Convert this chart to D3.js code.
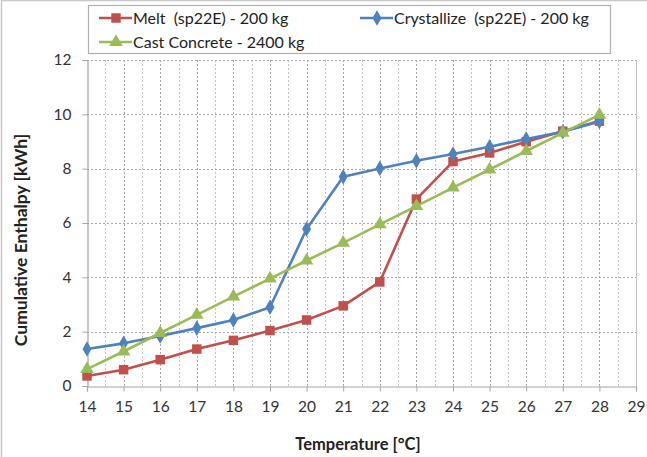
<!DOCTYPE html>
<html>
<head>
<meta charset="utf-8">
<script src="https://cdn.jsdelivr.net/npm/d3@7"></script>
<style>
  html, body { margin: 0; padding: 0; background: #fff; }
  svg { display: block; font-family: Lato, "Open Sans", sans-serif; }
  .legend-label { white-space: pre; }
</style>
</head>
<body>
<svg id="chart" width="647" height="457"></svg>
<script>
// Temperature steps (°C)
const temperatures = [14, 15, 16, 17, 18, 19, 20, 21, 22, 23, 24, 25, 26, 27, 28];
// Cumulative enthalpy (kWh) per series
const meltValues = [0.37, 0.6, 0.97, 1.36, 1.68, 2.04, 2.43, 2.95, 3.83, 6.88, 8.26, 8.58, 8.99, 9.38, 9.75];
const crystallizeValues = [1.36, 1.57, 1.84, 2.13, 2.43, 2.9, 5.78, 7.7, 8.01, 8.29, 8.54, 8.81, 9.09, 9.36, 9.74];
const concreteValues = [0.62, 1.27, 1.95, 2.62, 3.29, 3.95, 4.62, 5.27, 5.95, 6.62, 7.3, 7.97, 8.65, 9.32, 9.98];
// Axis ticks
const xTicks = [14, 15, 16, 17, 18, 19, 20, 21, 22, 23, 24, 25, 26, 27, 28, 29];
const yTicks = [0, 2, 4, 6, 8, 10, 12];
const seriesNames = ["Melt  (sp22E) - 200 kg", "Crystallize  (sp22E) - 200 kg", "Cast Concrete - 2400 kg"];

const series = [
  { name: seriesNames[0], values: meltValues, color: "#C0504D", symbol: d3.symbolSquare, size: 90 },
  { name: seriesNames[1], values: crystallizeValues, color: "#4F81BD", symbol: d3.symbolDiamond, size: 70 },
  { name: seriesNames[2], values: concreteValues, color: "#9BBB59", symbol: d3.symbolTriangle, size: 80 }
];

const svg = d3.select("#chart");
const W = 647, H = 457;
const plot = { left: 87, right: 636, top: 60, bottom: 386 };

// outer frame
svg.append("rect").attr("x", 1.5).attr("y", 0.5).attr("width", W + 10).attr("height", H + 10)
  .attr("fill", "#fff").attr("stroke", "#c8c8c8").attr("stroke-width", 1.5);

const x = d3.scaleLinear().domain([14, 29]).range([plot.left, plot.right]);
const y = d3.scaleLinear().domain([0, 12]).range([plot.bottom, plot.top]);

const grid = svg.append("g");
// vertical grid at every half degree
d3.range(14.5, 29, 0.5).forEach(v => {
  grid.append("line")
    .attr("x1", Math.round(x(v)) + 0.5).attr("x2", Math.round(x(v)) + 0.5)
    .attr("y1", plot.top).attr("y2", plot.bottom)
    .attr("stroke", Number.isInteger(v) ? "#a6a6a6" : "#c4c4c4")
    .attr("stroke-width", 1)
    .attr("stroke-dasharray", "2,2");
});
// horizontal grid
yTicks.filter(v => v > 0).forEach(v => {
  grid.append("line")
    .attr("x1", plot.left).attr("x2", plot.right)
    .attr("y1", Math.round(y(v)) + 0.5).attr("y2", Math.round(y(v)) + 0.5)
    .attr("stroke", "#a6a6a6").attr("stroke-width", 1)
    .attr("stroke-dasharray", "2,2");
});
// right border of plot
svg.append("line").attr("x1", plot.right + 0.5).attr("x2", plot.right + 0.5)
  .attr("y1", plot.top).attr("y2", plot.bottom).attr("stroke", "#c0c0c0");

// axes
const xAxis = svg.append("g")
  .attr("transform", `translate(0,${plot.bottom + 0.5})`)
  .call(d3.axisBottom(x).tickValues(xTicks).tickSize(5).tickPadding(9).tickFormat(d3.format("d")));
const yAxis = svg.append("g")
  .attr("transform", `translate(${plot.left + 0.5},0)`)
  .call(d3.axisLeft(y).tickValues(yTicks).tickSize(5).tickPadding(11).tickFormat(d3.format("d")));
[xAxis, yAxis].forEach(g => {
  g.select(".domain").attr("stroke", "#a6a6a6").attr("stroke-width", 1.2);
  g.selectAll(".tick line").attr("stroke", "#a6a6a6");
  g.selectAll(".tick text").attr("fill", "#333").style("font-size", "15.5px").style("font-family", "Lato, sans-serif");
});

// axis titles
svg.append("text").attr("x", 358).attr("y", 450).attr("text-anchor", "middle")
  .style("font-size", "16.5px").style("font-weight", "bold").attr("fill", "#222")
  .text("Temperature [°C]");
svg.append("text").attr("transform", "translate(27,240) rotate(-90)").attr("text-anchor", "middle")
  .style("font-size", "17.5px").style("font-weight", "bold").attr("fill", "#222")
  .text("Cumulative Enthalpy [kWh]");

// series lines and markers
const line = d3.line().x((d, i) => x(temperatures[i])).y(d => y(d));
series.forEach(s => {
  svg.append("path").datum(s.values).attr("d", line)
    .attr("fill", "none").attr("stroke", s.color).attr("stroke-width", 2.6)
    .attr("stroke-linejoin", "round");
  svg.append("g").selectAll("path").data(s.values).join("path")
    .attr("transform", (d, i) => `translate(${x(temperatures[i])},${y(d)})`)
    .attr("d", d3.symbol().type(s.symbol).size(s.size))
    .attr("fill", s.color);
});

// legend
const legend = svg.append("g");
legend.append("rect").attr("x", 88.5).attr("y", 5.5).attr("width", 522).attr("height", 48)
  .attr("fill", "#fff").attr("stroke", "#b0b0b0").attr("stroke-width", 1.2);
const legendPos = [{ x: 99, y: 18 }, { x: 360, y: 18 }, { x: 99, y: 42 }];
series.forEach((s, i) => {
  const p = legendPos[i];
  const g = legend.append("g").attr("transform", `translate(${p.x},${p.y})`);
  g.append("line").attr("x1", 0).attr("x2", 33).attr("stroke", s.color).attr("stroke-width", 2.6);
  g.append("path").attr("transform", "translate(17,0)")
    .attr("d", d3.symbol().type(s.symbol).size(s.size)).attr("fill", s.color);
  g.append("text").attr("class", "legend-label").attr("x", 34).attr("y", 0).attr("dy", "0.35em")
    .style("font-size", "16px").attr("fill", "#222").text(s.name);
});
</script>
</body>
</html>
